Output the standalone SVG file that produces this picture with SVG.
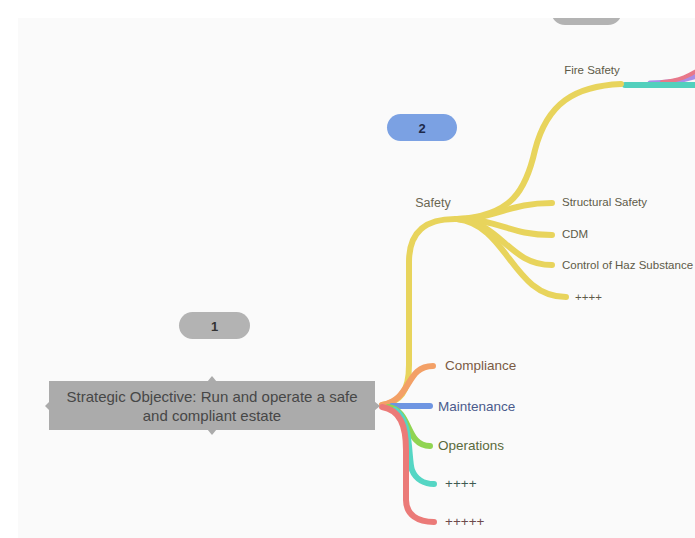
<svg xmlns="http://www.w3.org/2000/svg" width="695" height="538" viewBox="0 0 695 538">
<style>
.br{fill:none;stroke-linecap:round;stroke-linejoin:round}
.y{stroke:#e8d45c}
.t{font-family:"Liberation Sans",Arial,sans-serif}
.sub{font-size:11.5px;fill:#5e5a48}
.lbl{font-size:13.5px}
</style>
<rect x="0" y="0" width="695" height="538" fill="#ffffff"/>
<rect x="18" y="18" width="677" height="520" fill="#fafafa"/>
<g id="connectors">
  <!-- right edge branches from Fire Safety -->
  <path class="br" d="M650,83 C672,83 686,80 700,75" stroke="#a98ee6" stroke-width="5"/>
  <path class="br" d="M662,82 C680,81 690,75 700,69" stroke="#e8788a" stroke-width="4"/>
  <path class="br" d="M625,85 L700,85" stroke="#52d0bd" stroke-width="6"/>
  <!-- safety sub-branches -->
  <path class="br y" d="M457,219 C512,216 526,190 535,150 C547,103 575,86 621,84" stroke-width="6"/>
  <path class="br y" d="M457,219 C500,218 508,203 552,203" stroke-width="6"/>
  <path class="br y" d="M457,219 C500,219 508,235 552,235" stroke-width="6"/>
  <path class="br y" d="M457,219 C502,222 508,265 552,265" stroke-width="6"/>
  <path class="br y" d="M457,219 C508,225 512,297 566,297" stroke-width="6"/>
  <!-- main branches -->
  <path class="br y" d="M382,405 C400,402 409,392 409,365 L409,262 C409,232 425,219 455,219" stroke-width="6"/>
  <path class="br" d="M382,405 C412,400 405,366 433,366" stroke="#f3a066" stroke-width="6"/>
  <path class="br" d="M392,406 L430,406" stroke="#6e95e2" stroke-width="6"/>
  <path class="br" d="M388,407 C412,410 405,446 430,446" stroke="#90d452" stroke-width="6"/>
  <path class="br" d="M395,410 C412,420 408,460 412,470 C416,480 425,484 434,484" stroke="#55d6c4" stroke-width="6"/>
  <path class="br" d="M382,407 C400,410 406,425 406,450 L406,500 C406,515 418,522 434,522" stroke="#eb7a78" stroke-width="6"/>
</g>
<g id="node-top">
  <rect x="551" y="-4" width="71" height="29" rx="14" fill="#b3b3b3"/>
</g>
<rect x="0" y="0" width="695" height="18" fill="#ffffff"/>
<g id="label-1">
  <rect x="179" y="312" width="71" height="27" rx="13.5" fill="#b3b3b3"/>
  <text class="t" x="214.5" y="331" font-size="13" font-weight="bold" fill="#333" text-anchor="middle">1</text>
</g>
<g id="label-2">
  <rect x="387" y="114" width="70" height="27" rx="13.5" fill="#7ba1e3"/>
  <text class="t" x="422" y="133" font-size="13" font-weight="bold" fill="#1e2a4a" text-anchor="middle">2</text>
</g>
<g id="central">
  <rect x="49" y="381" width="326" height="49" fill="#ababab"/>
  <polygon points="45,406 50,401 50,411" fill="#ababab"/>
  <polygon points="212,376 207,382 217,382" fill="#ababab"/>
  <polygon points="212,435 207,429 217,429" fill="#ababab"/>
  <polygon points="380,406 374,401 374,411" fill="#ababab"/>
  <text class="t" x="212" y="402" font-size="15" fill="#474747" text-anchor="middle">Strategic Objective: Run and operate a safe</text>
  <text class="t" x="212" y="421" font-size="15" fill="#474747" text-anchor="middle">and compliant estate</text>
</g>
<g id="safety"><text class="t" x="433" y="207" font-size="12.5" fill="#6a6652" text-anchor="middle">Safety</text></g>
<g id="fire-safety"><text class="t sub" x="592" y="74" text-anchor="middle">Fire Safety</text></g>
<g id="structural-safety"><text class="t sub" x="562" y="206">Structural Safety</text></g>
<g id="cdm"><text class="t sub" x="562" y="238">CDM</text></g>
<g id="haz"><text class="t sub" x="562" y="269">Control of Haz Substance</text></g>
<g id="safety-more"><text class="t sub" x="575" y="301">++++</text></g>
<g id="compliance"><text class="t lbl" x="445" y="370" fill="#7a5a44">Compliance</text></g>
<g id="maintenance"><text class="t lbl" x="438" y="411" fill="#4a5a8c">Maintenance</text></g>
<g id="operations"><text class="t lbl" x="438" y="450" fill="#5a6a3c">Operations</text></g>
<g id="plus4"><text class="t lbl" x="445" y="488" fill="#3e5a52">++++</text></g>
<g id="plus5"><text class="t lbl" x="445" y="526" fill="#6e4a4c">+++++</text></g>
</svg>
